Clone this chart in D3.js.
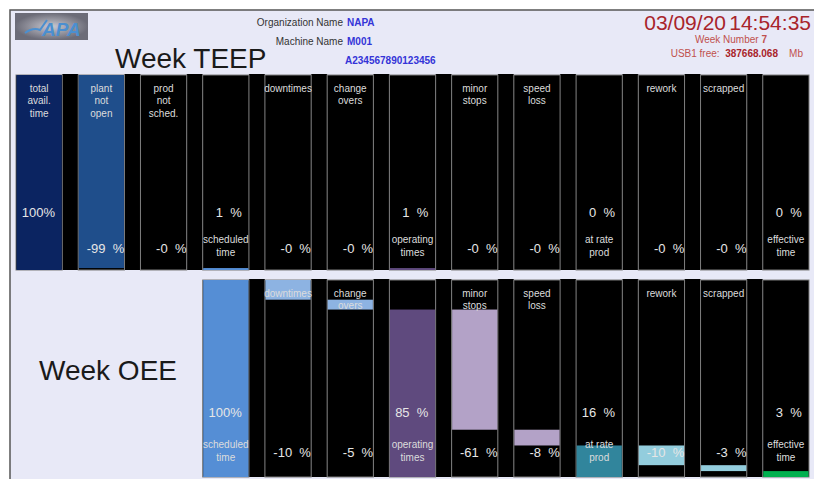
<!DOCTYPE html>
<html>
<head>
<meta charset="utf-8">
<script src="https://cdn.jsdelivr.net/npm/d3@7"></script>
<style>
  body { margin: 0; background: #fff; }
  svg { display: block; font-family: "Liberation Sans", Arial, sans-serif; }
</style>
</head>
<body>
<div id="chart"></div>
<script>
// columns of the waterfall, left to right
const categories = [
  ["total", "avail.", "time"], ["plant", "not", "open"], ["prod", "not", "sched."],
  ["scheduled", "time"], ["downtimes"], ["change", "overs"], ["operating", "times"],
  ["minor", "stops"], ["speed", "loss"], ["at rate", "prod"], ["rework"], ["scrapped"],
  ["effective", "time"]
];
const kinds = ["total", "loss", "loss", "total", "loss", "loss", "total", "loss", "loss", "total", "loss", "loss", "total"];
const teepValues = [100, -99, -0, 1, -0, -0, 1, -0, -0, 0, -0, -0, 0];
const oeeValues = [null, null, null, 100, -10, -5, 85, -61, -8, 16, -10, -3, 3];
const barColors = ["#0b2461", "#1f4e8b", "#000000", "#558ed5", "#8db3e2", "#8db3e2",
  "#5f4a7e", "#b3a2c7", "#b3a2c7", "#31859c", "#93cddd", "#93cddd", "#00b050"];

const width = 814, height = 479;

const svg = d3.select("#chart").append("svg")
  .attr("width", width)
  .attr("height", height);

// frame (only top and left edges are visible in the photo)
svg.append("rect")
  .attr("x", 10).attr("y", 10)
  .attr("width", width - 10).attr("height", height - 10)
  .attr("fill", "#e8e9f7");
svg.append("path")
  .attr("d", `M10,${height} V10 H${width}`)
  .attr("fill", "none")
  .attr("stroke", "#555")
  .attr("stroke-width", 1.5);

// logo
const grad = svg.append("defs").append("radialGradient").attr("id", "logoGrad");
grad.append("stop").attr("offset", "0%").attr("stop-color", "#c9c9d2");
grad.append("stop").attr("offset", "100%").attr("stop-color", "#6c6c78");
svg.append("rect")
  .attr("x", 15).attr("y", 13).attr("width", 73).attr("height", 27)
  .attr("fill", "url(#logoGrad)");
svg.append("path")
  .attr("d", "M25,33 Q33,27 40,30 L47,20")
  .attr("fill", "none").attr("stroke", "#4b8fd0").attr("stroke-width", 2);
svg.append("text")
  .attr("x", 42).attr("y", 36)
  .style("font-size", "19px").style("font-style", "italic").style("font-weight", "bold")
  .attr("fill", "#4b8fd0")
  .text("APA");

// header texts
const header = svg.append("g").style("font-size", "10px");
header.append("text").attr("x", 343).attr("y", 25.5).attr("text-anchor", "end")
  .attr("fill", "#333").text("Organization Name");
header.append("text").attr("x", 347).attr("y", 25.5).attr("fill", "#3434d8")
  .style("font-weight", "bold").text("NAPA");
header.append("text").attr("x", 343).attr("y", 44.5).attr("text-anchor", "end")
  .attr("fill", "#333").text("Machine Name");
header.append("text").attr("x", 347).attr("y", 44.5).attr("fill", "#3434d8")
  .style("font-weight", "bold").text("M001");
header.append("text").attr("x", 345).attr("y", 63.5).attr("fill", "#3434d8")
  .style("font-weight", "bold").text("A234567890123456");

svg.append("text").attr("x", 115).attr("y", 68)
  .style("font-size", "28px").attr("fill", "#1a1a1a").text("Week TEEP");
svg.append("text").attr("x", 39).attr("y", 380)
  .style("font-size", "28px").attr("fill", "#1a1a1a").text("Week OEE");

svg.append("text").attr("x", 811).attr("y", 29.5).attr("text-anchor", "end")
  .style("font-size", "21px").attr("fill", "#a8242b").text("14:54:35");
svg.append("text").attr("x", 726).attr("y", 29.5).attr("text-anchor", "end")
  .style("font-size", "21px").attr("fill", "#a8242b").text("03/09/20");

const wk = header.append("text").attr("x", 767).attr("y", 42.5).attr("text-anchor", "end")
  .attr("fill", "#c0504d");
wk.append("tspan").text("Week Number ");
wk.append("tspan").style("font-weight", "bold").text("7");

const usb = header.append("text").attr("x", 803).attr("y", 57).attr("text-anchor", "end")
  .attr("fill", "#c0504d").style("white-space", "pre");
usb.append("tspan").text("USB1 free:  ");
usb.append("tspan").style("font-weight", "bold").attr("fill", "#a8242b").text("387668.068");
usb.append("tspan").text("    Mb");

// shared x scale
const x = d3.scaleBand()
  .domain(d3.range(categories.length))
  .range([16, 809])
  .paddingInner(0.257)
  .paddingOuter(0);
const bw = x.bandwidth();

function waterfall(values) {
  let run = 0;
  return values.map((v, i) => {
    if (v == null) return null;
    let y0, y1;
    if (kinds[i] === "total") { y0 = 0; y1 = v; run = v; }
    else { y1 = run; y0 = run + v; run = y0; }
    return { i, v, y0, y1 };
  }).filter(d => d);
}

function fmt(d) {
  if (kinds[d.i] === "loss") return "-" + Math.abs(d.v) + "  %";
  return d.v === 100 ? "100%" : d.v + "  %";
}

function drawPanel(values, p) {
  const data = waterfall(values);
  const y = d3.scaleLinear().domain([0, 100]).range([p.bottom, p.top]);
  const g = svg.append("g");

  // black spacers between the columns
  g.selectAll(".spacer")
    .data(data.filter(d => d.i < categories.length - 1))
    .join("rect")
    .attr("x", d => x(d.i) + bw)
    .attr("y", p.top - 1)
    .attr("width", x.step() - bw)
    .attr("height", p.bottom - p.top + 1)
    .attr("fill", "#000");

  g.selectAll(".col")
    .data(data)
    .join("rect")
    .attr("x", d => x(d.i))
    .attr("y", p.top)
    .attr("width", bw)
    .attr("height", p.bottom - p.top)
    .attr("fill", "#000")
    .attr("stroke", "#7d7d7d")
    .attr("stroke-width", 1);

  g.selectAll(".bar")
    .data(data)
    .join("rect")
    .attr("x", d => x(d.i) + 0.5)
    .attr("y", d => y(d.y1))
    .attr("width", bw - 1)
    .attr("height", d => y(d.y0) - y(d.y1))
    .attr("fill", d => barColors[d.i]);

  // category names: losses (and the first total) on top, totals at the bottom
  data.forEach(d => {
    const cx = x(d.i) + bw / 2;
    const onTop = kinds[d.i] === "loss" || d.i === 0;
    const lines = categories[d.i];
    g.append("text")
      .attr("text-anchor", "middle")
      .attr("fill", "#dcdcdc")
      .style("font-size", "10px")
      .selectAll("tspan")
      .data(lines)
      .join("tspan")
      .attr("x", cx)
      .attr("y", (t, k) => onTop ? p.nameY + k * 12.5 : p.totalNameY + k * 13)
      .text(t => t);

    const isLoss = kinds[d.i] === "loss";
    g.append("text")
      .attr("x", x(d.i) + (isLoss ? 46 : 39))
      .attr("y", isLoss ? p.lossValY : p.totalValY)
      .attr("text-anchor", "end")
      .attr("fill", "#e6e6e6")
      .style("font-size", "13px")
      .style("white-space", "pre")
      .text(fmt(d));
  });
}

drawPanel(teepValues, { top: 75, bottom: 270, nameY: 91.5, totalNameY: 242.5, totalValY: 216.5, lossValY: 252.5 });
drawPanel(oeeValues, { top: 280, bottom: 477, nameY: 296.5, totalNameY: 447.5, totalValY: 416.5, lossValY: 456.5 });
</script>
</body>
</html>
